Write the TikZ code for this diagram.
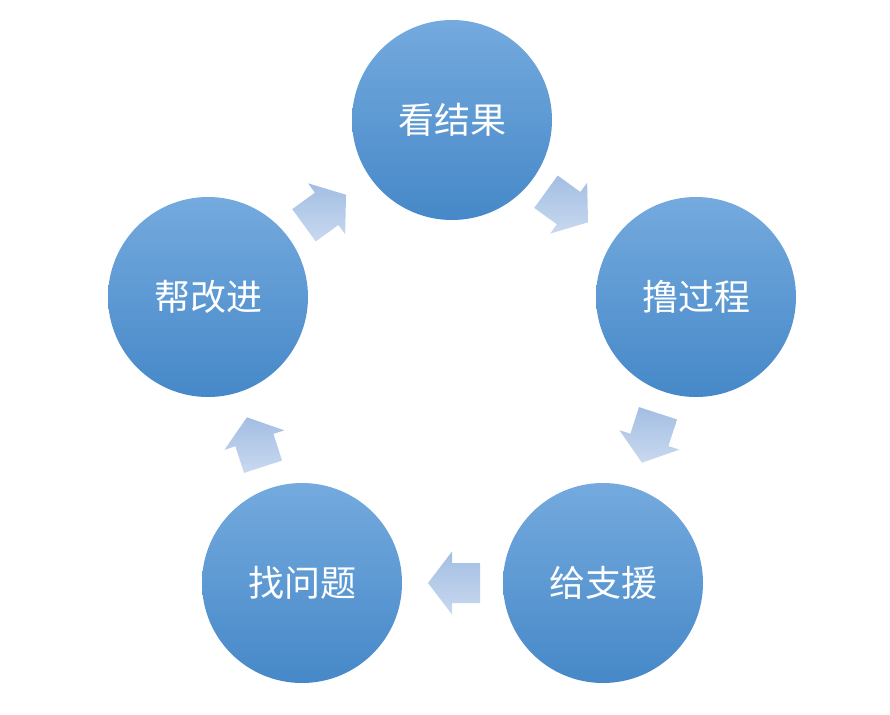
\documentclass[tikz,border=0pt]{standalone}
\usepackage{fontspec}
\setmainfont{Noto Sans CJK SC}
\begin{document}
\begin{tikzpicture}[x=1pt,y=-1pt,
  stage/.style={circle,minimum size=200pt,inner sep=0pt,top color=bubtop,bottom color=bubbot,draw=none,text=white,font=\fontsize{36}{40}\selectfont},
  blockarrow/.pic={\shade[top color=arrtop,bottom color=arrbot,shading angle=0] (-26,-20) -- (2,-20) -- (2,-31.5) -- (26,0) -- (2,31.5) -- (2,20) -- (-26,20) -- cycle;}]
\definecolor{bubtop}{HTML}{74AADE}
\definecolor{bubbot}{HTML}{4688C8}
\definecolor{arrtop}{HTML}{A3BEE3}
\definecolor{arrbot}{HTML}{C9D9EF}
\useasboundingbox (0,0) rectangle (890,714);
\node[stage] (a) at (452,120) {看结果};
\node[stage] (b) at (696,297) {撸过程};
\node[stage] (c) at (603,583) {给支援};
\node[stage] (d) at (302,583) {找问题};
\node[stage] (e) at (208,297) {帮改进};
\pic[rotate=-36] at (567,207) {blockarrow};
\pic[rotate=252] at (650,438) {blockarrow};
\pic[rotate=180] at (454,583) {blockarrow};
\pic[rotate=108] at (255,442) {blockarrow};
\pic[rotate=36] at (325,210) {blockarrow};
\end{tikzpicture}
\end{document}
